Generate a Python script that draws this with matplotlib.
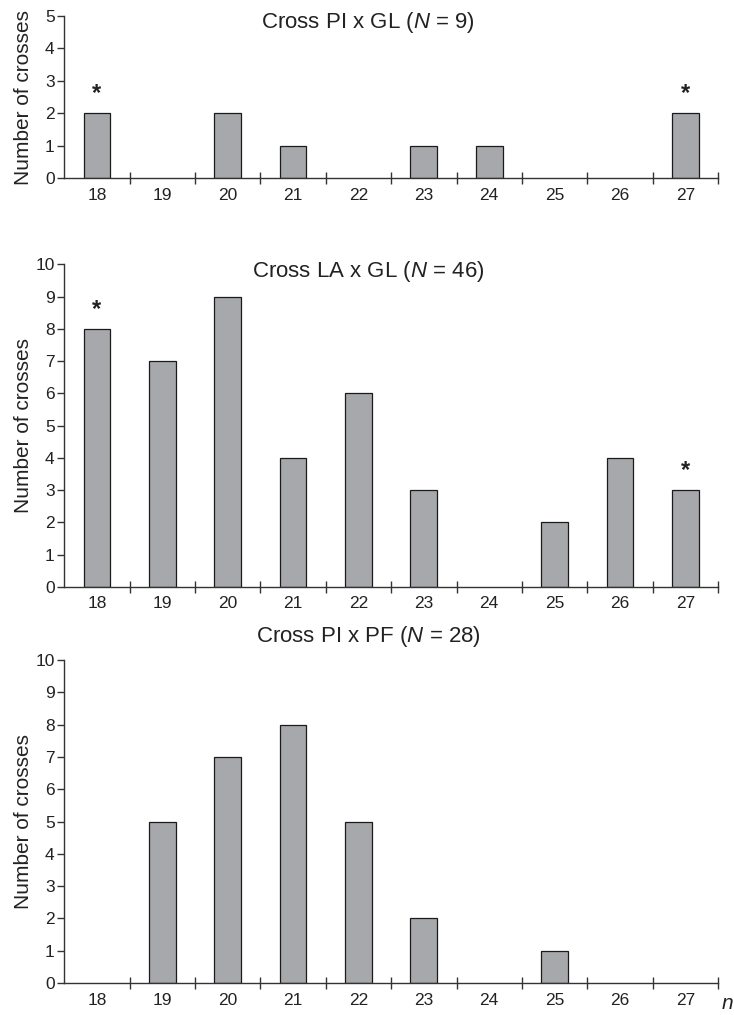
import matplotlib
matplotlib.use('Agg')
import matplotlib.pyplot as plt
from matplotlib.ticker import FixedLocator

plt.rcParams['font.family'] = ['Liberation Sans', 'DejaVu Sans']
plt.rcParams['mathtext.fontset'] = 'custom'
plt.rcParams['mathtext.rm'] = 'Liberation Sans'
plt.rcParams['mathtext.it'] = 'Liberation Sans:italic'

# chromosome number classes
categories = [18, 19, 20, 21, 22, 23, 24, 25, 26, 27]

# number of crosses per class
pi_gl = [2, 0, 2, 1, 0, 1, 1, 0, 0, 2]
la_gl = [8, 7, 9, 4, 6, 3, 0, 2, 4, 3]
pi_pf = [0, 5, 7, 8, 5, 2, 0, 1, 0, 0]

titles = ['Cross PI x GL ($\\it{N}$ = 9)',
          'Cross LA x GL ($\\it{N}$ = 46)',
          'Cross PI x PF ($\\it{N}$ = 28)']
ymaxes = [5, 10, 10]
stars = [[18, 27], [18, 27], []]

# axes boxes [left, bottom, width, height] in figure fraction
boxes = [[0.0876, 0.8246, 0.8906, 0.1596],
         [0.0876, 0.4219, 0.8906, 0.3176],
         [0.0876, 0.0315, 0.8906, 0.3182]]
title_y = [0.963, 0.978, 1.074]

bar_color = '#a7a8ab'
axis_color = '#333333'
text_color = '#222222'

fig = plt.figure(figsize=(7.34, 10.15), dpi=100)

for series, title, ymax, star, box, ty in zip([pi_gl, la_gl, pi_pf], titles, ymaxes,
                                              stars, boxes, title_y):
    ax = fig.add_axes(box)
    xs = [c for c, v in zip(categories, series) if v > 0]
    vs = [v for v in series if v > 0]
    ax.bar(xs, vs, width=0.41, color=bar_color, edgecolor='#1a1a1a', linewidth=0.9, zorder=2)

    for c in star:
        v = series[categories.index(c)]
        ax.annotate('*', (c, v), xytext=(0, 14), textcoords='offset points',
                    ha='center', va='center', fontsize=17, fontweight='bold', color=text_color)

    ax.set_xlim(categories[0] - 0.5, categories[-1] + 0.5)
    ax.set_ylim(0, ymax)
    ax.set_yticks(range(0, ymax + 1))
    ax.set_xticks(categories)
    ax.xaxis.set_minor_locator(FixedLocator([c + 0.5 for c in categories]))
    ax.tick_params(axis='x', which='major', length=0, pad=7, labelsize=12.5, labelcolor=text_color)
    ax.tick_params(axis='x', which='minor', direction='inout', length=8, width=1, color=axis_color)
    ax.tick_params(axis='y', direction='out', length=5, width=1, color=axis_color,
                   labelsize=12.5, labelcolor=text_color, pad=2)

    for side in ['top', 'right']:
        ax.spines[side].set_visible(False)
    for side in ['left', 'bottom']:
        ax.spines[side].set_color(axis_color)
        ax.spines[side].set_linewidth(1)

    ax.set_ylabel('Number of crosses', fontsize=15, color=text_color)
    ax.yaxis.set_label_coords(-31 / 654, 0.5)
    ax.text(0.465, ty, title, transform=ax.transAxes, ha='center', va='center',
            fontsize=16, color=text_color)

fig.text(0.999, 0.002, 'n', style='italic', fontsize=15, ha='right', va='bottom', color=text_color)

fig.savefig('out.png', dpi=100)
